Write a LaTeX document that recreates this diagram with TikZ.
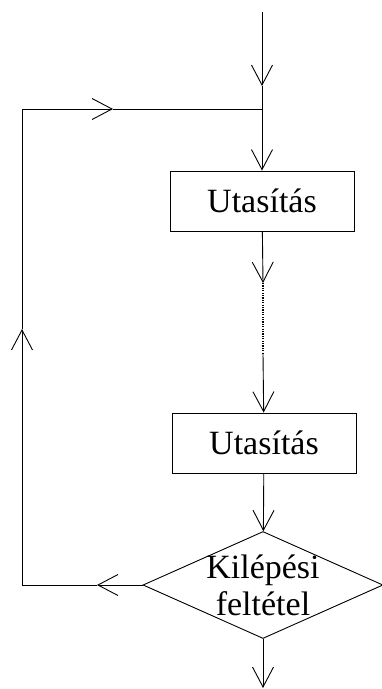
\documentclass[tikz,border=0pt]{standalone}
\usepackage{fontspec}
\setmainfont{Liberation Serif}
\usetikzlibrary{arrows.meta,shapes.geometric}
\tikzstyle{stmt}=[draw, rectangle, minimum width=184pt, minimum height=60pt, inner sep=0pt]
\tikzstyle{cond}=[draw, diamond, minimum width=240pt, minimum height=107pt, inner sep=0pt]
\tikzstyle{flow}=[-{Straight Barb[length=20pt,width=21pt]}]

\begin{document}
\begin{tikzpicture}[x=1pt, y=-1pt, line width=.9pt, font=\fontsize{34}{36}\selectfont]
 \useasboundingbox (0,0) rectangle (382,689);
%
 \coordinate (in) at (262,12);
 \coordinate (inarr) at (262,86);
 \coordinate (join) at (262,109);
 \node[stmt] (st1) at (262,201) {Utas\'it\'as};
 \coordinate (darr) at (263,283);
 \coordinate (dend) at (263,353);
 \node[stmt] (st2) at (264,443) {Utas\'it\'as};
 \node[cond] (exit) at (263,585) {};
 \node[align=center, inner sep=0pt, font=\fontsize{34}{37}\selectfont] (exittxt) at (263,585) {Kil\'ep\'esi\\felt\'etel};
 \coordinate (out) at (263,688);
%
 \coordinate (larr) at (97,585);
 \coordinate (bl) at (22,585);
 \coordinate (uarr) at (22,329);
 \coordinate (tl) at (22,109);
 \coordinate (rarr) at (113,109);
%
 \draw[flow] (in) -- (inarr);
 \draw (inarr) -- (join);
 \draw[flow] (join) -- (st1);
 \draw[flow] (st1) -- (darr);
 \draw[line width=1.1pt, dash pattern=on 1.2pt off 1.2pt] (darr) -- (dend);
 \draw[flow] (dend) -- (st2);
 \draw[flow] (st2) -- (exit);
 \draw[flow] (exit) -- (out);
% back to the start of the loop
 \draw[flow] (exit.west) -- (larr);
 \draw (larr) -- (bl);
 \draw[flow] (bl) -- (uarr);
 \draw (uarr) -- (tl);
 \draw[flow] (tl) -- (rarr);
 \draw (rarr) -- (join);
\end{tikzpicture}
\end{document}
